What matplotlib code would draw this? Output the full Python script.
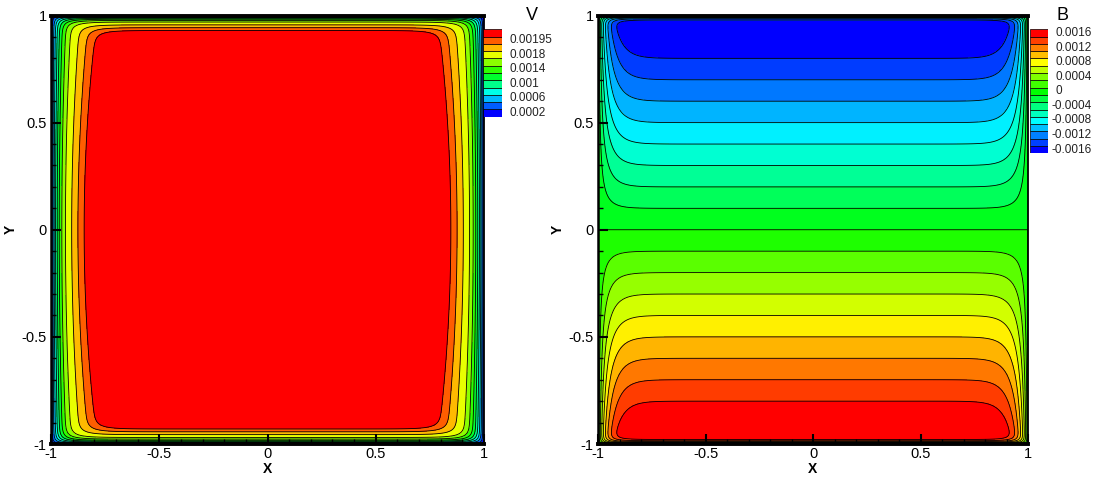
import numpy as np
import matplotlib
matplotlib.use('Agg')
import matplotlib.pyplot as plt
from matplotlib.colors import hsv_to_rgb
from matplotlib.patches import Rectangle

plt.rcParams['font.family'] = ['Liberation Sans', 'DejaVu Sans']

# --- niveles de contorno y etiquetas de las leyendas ---
V_levels = [0.0002, 0.0004, 0.0006, 0.0008, 0.001, 0.0012, 0.0014, 0.0016,
            0.0018, 0.0019, 0.00195, 0.002]
V_labels = ['0.0002', '', '0.0006', '', '0.001', '', '0.0014', '',
            '0.0018', '', '0.00195', '']
B_levels = [-0.0016, -0.0014, -0.0012, -0.001, -0.0008, -0.0006, -0.0004, -0.0002,
            0.0, 0.0002, 0.0004, 0.0006, 0.0008, 0.001, 0.0012, 0.0014, 0.0016]
B_labels = ['-0.0016', '', '-0.0012', '', '-0.0008', '', '-0.0004', '',
            '0', '', '0.0004', '', '0.0008', '', '0.0012', '', '0.0016']
ticks = [-1, -0.5, 0, 0.5, 1]
tick_labels = ['-1', '-0.5', '0', '0.5', '1']

# parametros del flujo (capas de Hartmann y laterales)
V_core, V_hartmann, V_side, V_side_growth = 0.002, 0.019, 0.0415, 0.4
B_core, B_hartmann, B_side = 0.002, 0.0124, 0.045

# --- campos en la seccion del ducto ---
s = np.linspace(-1, 1, 1200)
X, Y = np.meshgrid(s, s)
dx = 1 - np.abs(X)
dy = 1 - np.abs(Y)
V = V_core * (1 - np.exp(-dy / V_hartmann)) * \
    (1 - np.exp(-dx / (V_side * (1 + V_side_growth * Y**2))))
B = -B_core * Y * (1 - np.exp(-dy / B_hartmann)) * (1 - np.exp(-dx / B_side))


def rainbow(n):
    h = np.linspace(240, 0, n) / 360.0
    return [hsv_to_rgb((hh, 1, 1)) for hh in h]


W, H = 1102, 484
fig = plt.figure(figsize=(W / 100, H / 100), dpi=100, facecolor='white')


def box(x0, y0, x1, y1):
    return [x0 / W, 1 - y1 / H, (x1 - x0) / W, (y1 - y0) / H]


def panel(rect, Z, levels, ncol, ylab_x):
    ax = fig.add_axes(box(*rect))
    fill = [-1.0] + list(levels) + [1.0]
    ax.contourf(X, Y, Z, levels=fill, colors=rainbow(ncol))
    ax.contour(X, Y, Z, levels=levels, colors='black', linewidths=0.6,
               linestyles='solid')
    ax.set_xlim(-1, 1)
    ax.set_ylim(-1, 1)
    ax.set_xticks(ticks)
    ax.set_xticklabels(tick_labels)
    ax.set_yticks(ticks)
    ax.set_yticklabels(tick_labels)
    ax.set_xticks(np.arange(-0.9, 1.0, 0.1), minor=True)
    ax.set_yticks(np.arange(-0.9, 1.0, 0.1), minor=True)
    ax.tick_params(which='both', direction='in', top=False, right=False,
                   labelsize=10.5, width=1.5)
    ax.tick_params(which='major', length=7, pad=3)
    ax.tick_params(axis='x', which='major', pad=2)
    ax.tick_params(which='minor', length=3.5, width=1)
    ax.spines['top'].set_linewidth(2.8)
    ax.spines['bottom'].set_linewidth(2.8)
    ax.spines['left'].set_linewidth(1.8)
    ax.spines['right'].set_linewidth(1.3)
    cx = (rect[0] + rect[2]) / 2
    fig.text(cx / W, 1 - 469 / H, 'X', ha='center', va='center',
             fontsize=10, fontweight='bold')
    fig.text(ylab_x / W, 1 - 229 / H, 'Y', ha='center', va='center',
             fontsize=10, fontweight='bold', rotation=90)
    return ax


def legend(rect, colors, labels, title, title_xy, neg_shift):
    x0, y0, x1, y1 = rect
    cax = fig.add_axes(box(x0, y0, x1, y1))
    n = len(colors)
    for i, c in enumerate(colors):
        cax.add_patch(Rectangle((0, i), 1, 1, facecolor=c, edgecolor='black', lw=0.5))
    cax.set_xlim(0, 1)
    cax.set_ylim(0, n)
    cax.axis('off')
    hstep = (y1 - y0) / n
    for i, lab in enumerate(labels):
        if not lab:
            continue
        yc = y1 - (i + 0.5) * hstep
        xt = x1 + 7 - (neg_shift if lab.startswith('-') else 0)
        fig.text(xt / W, 1 - yc / H, lab, ha='left', va='center', fontsize=8.5,
                 color='#222222')
    fig.text(title_xy[0] / W, 1 - title_xy[1] / H, title, ha='center',
             va='center', fontsize=13)


panel((51, 15.5, 484, 444), V, V_levels[:11], 12, 11)
panel((598, 15.5, 1028, 444), B, B_levels, 18, 558)

legend((483, 29.3, 502, 116.7), rainbow(12), V_labels, 'V', (532, 16), 0)
legend((1030, 29.3, 1048, 153.3), rainbow(17), B_labels, 'B', (1063, 16), 3.5)

fig.savefig('out.png', dpi=100, facecolor='white')
